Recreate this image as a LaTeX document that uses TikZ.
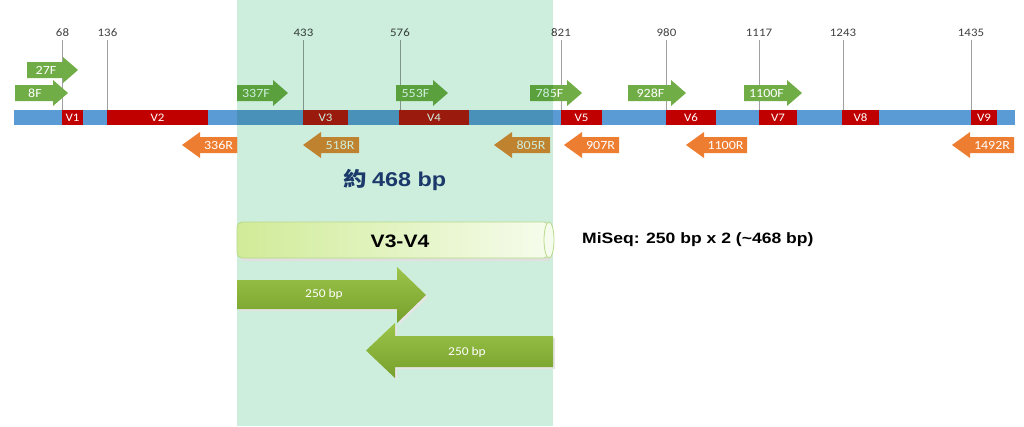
\documentclass[tikz,border=0pt]{standalone}
\usepackage{fontspec}
\setmainfont{Carlito}[FakeStretch=1.12]
\newfontfamily\arialb{Liberation Sans}[FakeStretch=1.17]
\newfontfamily\cjk{Noto Sans CJK TC}[FakeStretch=1.17]
\definecolor{barblue}{HTML}{5B9BD5}
\definecolor{vred}{HTML}{C00000}
\definecolor{pgreen}{HTML}{70AD47}
\definecolor{porange}{HTML}{ED7D31}
\definecolor{labwhite}{HTML}{FFFFFF}
\definecolor{region}{HTML}{CDEEDC}
\definecolor{ticklab}{HTML}{404040}
\definecolor{tickline}{HTML}{A0A0A0}
\definecolor{navy}{HTML}{1B3A6B}
\definecolor{cylL}{HTML}{D0EB98}
\definecolor{cylR}{HTML}{F6FCEC}
\definecolor{cylB}{HTML}{B7D98A}
\definecolor{bigT}{HTML}{9CC44A}
\definecolor{bigB}{HTML}{76A02C}
\tikzset{
  vbox/.style={fill=vred,draw=none},
  vlab/.style={text=labwhite,font=\fontsize{11.5}{12}\selectfont,inner sep=0pt},
  ticklabel/.style={text=ticklab,font=\fontsize{11.5}{12}\selectfont,inner sep=1pt},
  tickrule/.style={draw=tickline,line width=1pt},
  fwdfill/.style={fill=pgreen},
  revfill/.style={fill=porange},
  plab/.style={text=labwhite,font=\fontsize{12.5}{13}\selectfont,inner sep=0pt},
  biglab/.style={text=white,font=\fontsize{12}{13}\selectfont,inner sep=0pt},
  bigarrow/.style={top color=bigT,bottom color=bigB,draw=none},
}
\newcommand\fwdp[5]{%
  \path[fwdfill] (#2,{#4-8}) -- ({#3-15},{#4-8}) -- ({#3-15},{#4-13}) -- (#3,#4) -- ({#3-15},{#4+13}) -- ({#3-15},{#4+8}) -- (#2,{#4+8}) -- cycle;
  \node[plab] (#1) at ({(#2+#3-15)/2+1},#4) {#5};}
\newcommand\revp[5]{%
  \path[revfill] (#2,#4) -- ({#2+18},{#4-13}) -- ({#2+18},{#4-8}) -- (#3,{#4-8}) -- (#3,{#4+8}) -- ({#2+18},{#4+8}) -- ({#2+18},{#4+13}) -- cycle;
  \node[plab] (#1) at ({(#2+18+#3)/2},#4) {#5};}
\newcommand\vreg[4]{%
  \path[vbox] (#2,110) rectangle (#3,125);
  \node[vlab] (#1) at ({(#2+#3)/2},117.5) {#4};}
\newcommand\tick[3]{%
  \node[ticklabel] (#1) at (#2,33) {#3};
  \coordinate (#1b) at (#2,110);
  \draw[tickrule] (#2,40) -- (#1b);}
\newcommand\track{%
  \path[fill=barblue] (14,110) rectangle (1015,125);
  \vreg{v1}{62}{83}{V1}
  \vreg{v2}{107}{208}{V2}
  \vreg{v3}{303}{348}{V3}
  \vreg{v4}{399}{469}{V4}
  \vreg{v5}{561}{602}{V5}
  \vreg{v6}{666}{716}{V6}
  \vreg{v7}{759}{797}{V7}
  \vreg{v8}{842}{879}{V8}
  \vreg{v9}{971}{997}{V9}
  \tick{t68}{62.5}{68}
  \tick{t136}{107.5}{136}
  \tick{t433}{303.5}{433}
  \tick{t576}{400}{576}
  \tick{t821}{561}{821}
  \tick{t980}{666.5}{980}
  \tick{t1117}{759}{1117}
  \tick{t1243}{843}{1243}
  \tick{t1435}{971}{1435}
  \fwdp{p27F}{27}{78}{70}{27F}
  \fwdp{p8F}{15}{68}{93}{8F}
  \fwdp{p337F}{237}{288}{93}{337F}
  \fwdp{p553F}{396}{448}{93}{553F}
  \fwdp{p785F}{530}{582}{93}{785F}
  \fwdp{p928F}{628}{686}{93}{928F}
  \fwdp{p1100F}{744}{802}{93}{1100F}
  \revp{p336R}{182}{237}{145}{336R}
  \revp{p518R}{303}{359}{145}{518R}
  \revp{p805R}{494}{550}{145}{805R}
  \revp{p907R}{564}{619}{145}{907R}
  \revp{p1100R}{686}{747}{145}{1100R}
  \revp{p1492R}{952}{1014}{145}{1492R}}
\begin{document}
\begin{tikzpicture}[x=1pt,y=-1pt]
\useasboundingbox (0,0) rectangle (1024,426);
% highlighted region (background)
\path[fill=region] (237,0) rectangle (553,426);
% track outside the region
\begin{scope}
  \clip (0,0) rectangle (237,426) (553,0) rectangle (1024,426);
  \track
\end{scope}
% track seen through the region (colours multiplied by the region tint)
\begin{scope}
  \clip (237,0) rectangle (553,426);
  \definecolor{barblue}{HTML}{4991B8}
  \definecolor{vred}{HTML}{9A1A0E}
  \definecolor{pgreen}{HTML}{5AA13D}
  \definecolor{porange}{HTML}{BF822F}
  \definecolor{labwhite}{HTML}{CDEEDC}
  \definecolor{ticklab}{HTML}{333C37}
  \definecolor{tickline}{HTML}{81968A}
  \track
\end{scope}
% amplicon size
\node[text=navy,font=\fontsize{20}{22}\selectfont\bfseries,inner sep=0pt] (size) at (395,179.5) {{\cjk\bfseries 約} {\arialb\bfseries 468 bp}};
% cylinder
\path[fill=black!12,rounded corners=5] (239,225) rectangle (552,261);
\path[left color=cylL,right color=cylR,draw=cylB,line width=0.8pt,rounded corners=5] (237,222) rectangle (549,258);
\path[fill=cylR,draw=cylB,line width=0.8pt] (549,240) ellipse [x radius=5, y radius=18];
\node[font=\arialb\bfseries\fontsize{18}{20}\selectfont,inner sep=0pt] (cyl) at (400,241) {V3-V4};
\node[font=\arialb\bfseries\fontsize{15}{17}\selectfont,anchor=west,inner sep=0pt] (miseq) at (582,240) {MiSeq: 250 bp x 2 (\textasciitilde 468 bp)};
% reads
\path[fill=black!10] (239,282) -- (399,282) -- (399,269) -- (428,297) -- (399,325) -- (399,311) -- (239,311) -- cycle;
\path[bigarrow] (237,280) -- (397,280) -- (397,267) -- (426,295) -- (397,323) -- (397,309) -- (237,309) -- cycle;
\node[biglab] (r1) at (324,294.5) {250 bp};
\path[fill=black!10] (368,352) -- (397,325) -- (397,338) -- (555,338) -- (555,369) -- (397,369) -- (397,380) -- cycle;
\path[bigarrow] (366,350.5) -- (395,323) -- (395,336) -- (553,336) -- (553,367) -- (395,367) -- (395,378) -- cycle;
\node[biglab] (r2) at (467,352) {250 bp};
\end{tikzpicture}
\end{document}
